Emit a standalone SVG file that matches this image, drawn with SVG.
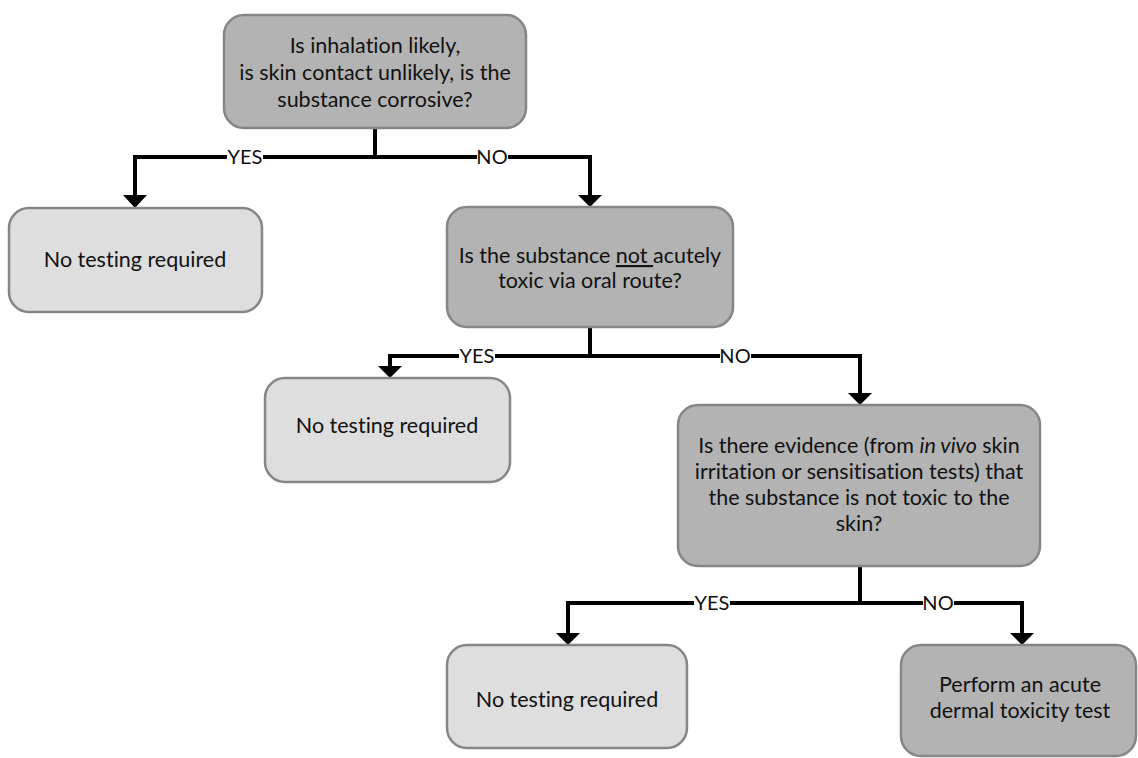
<svg xmlns="http://www.w3.org/2000/svg" width="1138" height="758" viewBox="0 0 1138 758">
<style>
.dark{fill:#b3b3b3;stroke:#868686;stroke-width:2.5}
.light{fill:#dedede;stroke:#868686;stroke-width:2.5}
.t{font-family:Lato,"Liberation Sans",sans-serif;font-size:21.5px;fill:#111;text-anchor:middle;font-variant-ligatures:none}
.lbl{font-family:Lato,"Liberation Sans",sans-serif;font-size:20px;fill:#111;text-anchor:middle}
.ln{fill:none;stroke:#000;stroke-width:4;stroke-linejoin:miter;stroke-linecap:butt}
.ah{fill:#000}
.bg{fill:#fff}
</style>
<g id="connectors">
<path class="ln" d="M375,128 V157"/>
<path class="ln" d="M135,197 V157 H590 V197"/>
<polygon class="ah" points="123,195 147,195 135,208"/>
<polygon class="ah" points="578,195 602,195 590,207"/>
<rect class="bg" x="227" y="146" width="36" height="22"/>
<text class="lbl" x="245" y="164">YES</text>
<rect class="bg" x="477" y="146" width="31" height="22"/>
<text class="lbl" x="492" y="164">NO</text>

<path class="ln" d="M590,327 V356"/>
<path class="ln" d="M390,367 V356 H860 V394"/>
<polygon class="ah" points="378,366 402,366 390,378"/>
<polygon class="ah" points="848,393 872,393 860,405"/>
<rect class="bg" x="459" y="345" width="36" height="22"/>
<text class="lbl" x="477" y="363">YES</text>
<rect class="bg" x="720" y="345" width="31" height="22"/>
<text class="lbl" x="735" y="363">NO</text>

<path class="ln" d="M860,566 V603"/>
<path class="ln" d="M568,634 V603 H1022 V634"/>
<polygon class="ah" points="556,633 580,633 568,645"/>
<polygon class="ah" points="1010,633 1034,633 1022,645"/>
<rect class="bg" x="694" y="592" width="36" height="22"/>
<text class="lbl" x="712" y="610">YES</text>
<rect class="bg" x="923" y="592" width="31" height="22"/>
<text class="lbl" x="938" y="610">NO</text>
</g>
<g id="q1">
<rect class="dark" x="224" y="15" width="302" height="113" rx="20"/>
<text class="t" x="375" y="53">Is inhalation likely,</text>
<text class="t" x="375" y="80">is skin contact unlikely, is the</text>
<text class="t" x="375" y="107">substance corrosive?</text>
</g>
<g id="r1">
<rect class="light" x="9" y="208" width="253" height="104" rx="20"/>
<text class="t" x="135" y="267">No testing required</text>
</g>
<g id="q2">
<rect class="dark" x="447" y="207" width="286" height="120" rx="20"/>
<text class="t" x="590" y="263">Is the substance <tspan text-decoration="underline">not </tspan>acutely</text>
<text class="t" x="590" y="288">toxic via oral route?</text>
</g>
<g id="r2">
<rect class="light" x="265" y="378" width="245" height="104" rx="20"/>
<text class="t" x="387" y="433">No testing required</text>
</g>
<g id="q3">
<rect class="dark" x="678" y="405" width="362" height="161" rx="20"/>
<text class="t" x="859" y="453">Is there evidence (from <tspan font-style="italic">in vivo</tspan> skin</text>
<text class="t" x="859" y="479">irritation or sensitisation tests) that</text>
<text class="t" x="859" y="505">the substance is not toxic to the</text>
<text class="t" x="859" y="531">skin?</text>
</g>
<g id="r3">
<rect class="light" x="447" y="645" width="240" height="103" rx="20"/>
<text class="t" x="567" y="707">No testing required</text>
</g>
<g id="r4">
<rect class="dark" x="901" y="645" width="235" height="111" rx="20"/>
<text class="t" x="1020" y="692">Perform an acute</text>
<text class="t" x="1020" y="718">dermal toxicity test</text>
</g>
</svg>
